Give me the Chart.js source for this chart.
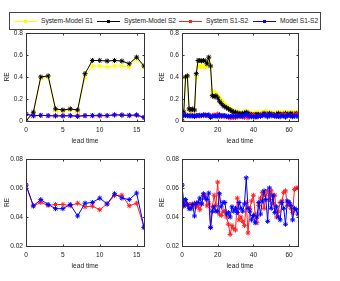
<!DOCTYPE html>
<html>
<head>
<meta charset="utf-8">
<script src="https://cdn.jsdelivr.net/npm/chart.js@4"></script>
<style>
 body { margin: 0; background: #fff; width: 340px; height: 281px; overflow: hidden; position: relative; font-family: "Liberation Sans", Arial, sans-serif; }
 canvas { position: absolute; }
 #legend { position: absolute; left: 9px; top: 12px; width: 310px; height: 16px; border: 1px solid #444; background: #fff; z-index: 5; font-size: 6.6px; color: #222; }
 #legend .ln { position: absolute; top: 8px; height: 1px; }
 #legend .dot { position: absolute; top: -1px; width: 3px; height: 3px; }
 #legend .tx { position: absolute; top: 4px; white-space: nowrap; }
</style>
</head>
<body>
<div id="legend"></div>
<canvas id="tl" width="146" height="119" style="left:3px;top:26px"></canvas>
<canvas id="tr" width="145" height="119" style="left:158px;top:26px"></canvas>
<canvas id="bl" width="146" height="118" style="left:3px;top:152px"></canvas>
<canvas id="br" width="145" height="118" style="left:158px;top:152px"></canvas>
<script>
// lead times
const leadTime = [0, 1, 2, 3, 4, 5, 6, 7, 8, 9, 10, 11, 12, 13, 14, 15, 16,
 17, 18, 19, 20, 21, 22, 23, 24, 25, 26, 27, 28, 29, 30, 31, 32, 33, 34, 35, 36, 37, 38, 39, 40,
 41, 42, 43, 44, 45, 46, 47, 48, 49, 50, 51, 52, 53, 54, 55, 56, 57, 58, 59, 60, 61, 62, 63, 64, 65];

// series
const sysModelS1 = [0, 0.07, 0.39, 0.40, 0.09, 0.09, 0.10, 0.09, 0.40, 0.50, 0.50, 0.49, 0.50, 0.50, 0.49, 0.56, 0.49,
 0.27, 0.26, 0.25, 0.23, 0.21, 0.19, 0.17, 0.15, 0.14, 0.13, 0.11, 0.10, 0.09, 0.09,
 0.08, 0.08, 0.07, 0.08, 0.08, 0.09, 0.08, 0.07, 0.07, 0.07, 0.07, 0.08, 0.07, 0.07, 0.08, 0.08, 0.09, 0.08,
 0.08, 0.08, 0.07, 0.07, 0.08, 0.08, 0.07, 0.08, 0.08, 0.07, 0.08, 0.08, 0.07, 0.08, 0.08, 0.07, 0.08];
const sysModelS2 = [0, 0.08, 0.40, 0.41, 0.11, 0.10, 0.11, 0.10, 0.43, 0.55, 0.55, 0.545, 0.55, 0.545, 0.52, 0.58, 0.50,
 0.23, 0.22, 0.23, 0.21, 0.18, 0.16, 0.14, 0.13, 0.12, 0.11, 0.10, 0.09, 0.08, 0.08,
 0.07, 0.07, 0.06, 0.07, 0.07, 0.08, 0.07, 0.06, 0.06, 0.05, 0.06, 0.06, 0.06, 0.05, 0.06, 0.07, 0.06, 0.06,
 0.07, 0.06, 0.06, 0.05, 0.06, 0.07, 0.06, 0.06, 0.06, 0.07, 0.06, 0.06, 0.07, 0.06, 0.06, 0.07, 0.06];
const sysS1S2 = [0.062, 0.0475, 0.050, 0.048, 0.0486, 0.0486, 0.0477, 0.0495, 0.047, 0.0475, 0.045, 0.049, 0.0548, 0.055, 0.0477, 0.0495, 0.033,
 0.047, 0.055, 0.048, 0.064, 0.042, 0.041, 0.044, 0.044, 0.040, 0.035, 0.028, 0.034, 0.032, 0.031,
 0.053, 0.038, 0.040, 0.037, 0.034, 0.050, 0.029, 0.046, 0.051, 0.055, 0.042, 0.036, 0.048, 0.053, 0.057,
 0.046, 0.055, 0.058, 0.052, 0.058, 0.049, 0.055, 0.040, 0.044, 0.050, 0.051, 0.057, 0.058, 0.048, 0.050,
 0.046, 0.043, 0.059, 0.060, 0.060];
const modelS1S2 = [0.062, 0.0477, 0.052, 0.0486, 0.0457, 0.0457, 0.0486, 0.0407, 0.0495, 0.050, 0.053, 0.049, 0.056, 0.053, 0.052, 0.0565, 0.0327,
 0.044, 0.047, 0.044, 0.044, 0.056, 0.047, 0.050, 0.050, 0.042, 0.043, 0.040, 0.047, 0.044, 0.046,
 0.043, 0.050, 0.046, 0.044, 0.049, 0.067, 0.046, 0.044, 0.038, 0.041, 0.036, 0.040, 0.050, 0.042, 0.051,
 0.058, 0.052, 0.037, 0.060, 0.046, 0.055, 0.043, 0.047, 0.040, 0.038, 0.050, 0.046, 0.035, 0.051, 0.050,
 0.048, 0.038, 0.046, 0.045, 0.042];

// ticks
const xTicksShort = [0, 5, 10, 15];
const xTicksLong = [0, 20, 40, 60];
const yTicksTop = [0, 0.2, 0.4, 0.6, 0.8];
const yTicksBottom = [0.02, 0.04, 0.06, 0.08];
const yLabelsTop = ["0", "0.2", "0.4", "0.6", "0.8"];
const yLabelsBottom = ["0.02", "0.04", "0.06", "0.08"];
const xLabelsShort = ["0", "5", "10", "15"];
const xLabelsLong = ["0", "20", "40", "60"];

const series = [
 { name: "System-Model S1", data: sysModelS1, color: "#ffff00", order: 4 },
 { name: "System-Model S2", data: sysModelS2, color: "#000000", order: 3 },
 { name: "System S1-S2", data: sysS1S2, color: "#ff2020", order: 2 },
 { name: "Model S1-S2", data: modelS1S2, color: "#0000ff", order: 1 }
];

const FONT = { family: "Liberation Sans", size: 6.6 };

// legend (html text)
const legend = document.getElementById("legend");
const legendPos = [[4, 31], [87, 114], [169, 196], [243, 270]];
series.forEach((s, i) => {
 const [lx, tx] = legendPos[i];
 const ln = document.createElement("div");
 ln.className = "ln";
 ln.style.left = lx + "px";
 ln.style.width = "23px";
 ln.style.background = s.color;
 const dot = document.createElement("div");
 dot.className = "dot";
 dot.style.left = "10px";
 dot.style.background = s.color;
 ln.appendChild(dot);
 const t = document.createElement("div");
 t.className = "tx";
 t.style.left = tx + "px";
 t.textContent = s.name;
 legend.appendChild(ln);
 legend.appendChild(t);
});

// full box + inward tick marks like matlab
const boxPlugin = {
 id: "box",
 afterDraw(chart) {
  const { ctx, chartArea: a, scales } = chart;
  ctx.save();
  ctx.strokeStyle = "#333";
  ctx.lineWidth = 1;
  const L = Math.round(a.left) + 0.5, R = Math.round(a.right) + 0.5;
  const T = Math.round(a.top) + 0.5, B = Math.round(a.bottom) + 0.5;
  ctx.strokeRect(L, T, R - L, B - T);
  ctx.beginPath();
  scales.x.ticks.forEach((t, i) => {
   const px = Math.round(scales.x.getPixelForTick(i)) + 0.5;
   ctx.moveTo(px, B); ctx.lineTo(px, B - 2);
   ctx.moveTo(px, T); ctx.lineTo(px, T + 2);
  });
  scales.y.ticks.forEach((t, i) => {
   const py = Math.round(scales.y.getPixelForTick(i)) + 0.5;
   ctx.moveTo(L, py); ctx.lineTo(L + 2, py);
   ctx.moveTo(R, py); ctx.lineTo(R - 2, py);
  });
  ctx.stroke();
  ctx.restore();
 }
};

function makeChart(id, n, which, xMax, xTicks, xLabels, yMin, yMax, yTicks, yLabels, padTop, yWidth) {
 const datasets = which.map(k => {
  const s = series[k];
  return {
   label: s.name,
   data: leadTime.slice(0, n).map((x, i) => ({ x: x, y: s.data[i] })),
   borderColor: s.color,
   backgroundColor: s.color,
   borderWidth: 1,
   pointStyle: "star",
   pointRadius: 2.5,
   pointBorderWidth: 1,
   pointBorderColor: s.color,
   order: s.order,
   tension: 0
  };
 });
 return new Chart(document.getElementById(id), {
  type: "line",
  data: { datasets },
  options: {
   responsive: false,
   animation: false,
   devicePixelRatio: 1,
   layout: { padding: { top: padTop, right: 5, left: 0, bottom: 0 } },
   plugins: { legend: { display: false }, tooltip: { enabled: false } },
   scales: {
    x: {
     type: "linear", min: 0, max: xMax,
     grid: { display: false, drawTicks: false },
     border: { display: false },
     afterBuildTicks: sc => { sc.ticks = xTicks.map(v => ({ value: v })); },
     afterFit: sc => { sc.height = 24; },
     ticks: { font: FONT, color: "#222", padding: 5, maxRotation: 0, callback: (v, i) => xLabels[i] },
     title: { display: true, text: "lead time", font: FONT, color: "#222", padding: 0 }
    },
    y: {
     min: yMin, max: yMax,
     grid: { display: false, drawTicks: false },
     border: { display: false },
     afterBuildTicks: sc => { sc.ticks = yTicks.map(v => ({ value: v })); },
     afterFit: sc => { sc.width = yWidth; },
     ticks: { font: FONT, color: "#222", padding: 3, callback: (v, i) => yLabels[i] },
     title: { display: true, text: "RE", font: FONT, color: "#222", padding: 0 }
    }
   }
  },
  plugins: [boxPlugin]
 });
}

makeChart("tl", 17, [0, 1, 2, 3], 16, xTicksShort, xLabelsShort, 0, 0.8, yTicksTop, yLabelsTop, 5, 23);
makeChart("tr", 66, [0, 1, 2, 3], 65, xTicksLong, xLabelsLong, 0, 0.8, yTicksTop, yLabelsTop, 5, 24);
makeChart("bl", 17, [2, 3], 16, xTicksShort, xLabelsShort, 0.02, 0.08, yTicksBottom, yLabelsBottom, 6, 23);
makeChart("br", 66, [2, 3], 65, xTicksLong, xLabelsLong, 0.02, 0.08, yTicksBottom, yLabelsBottom, 6, 24);
</script>
</body>
</html>
